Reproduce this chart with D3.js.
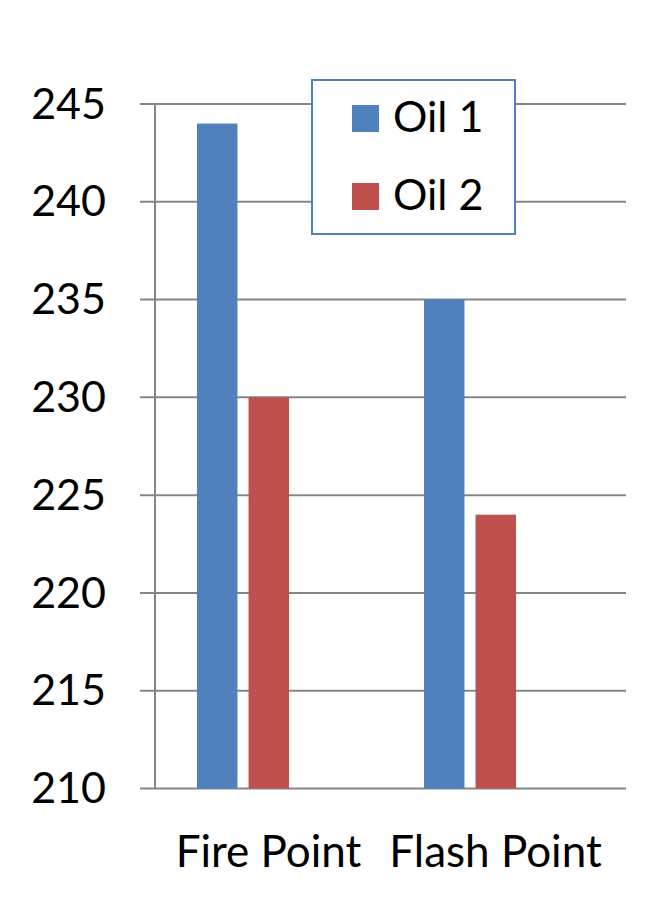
<!DOCTYPE html>
<html><head><meta charset="utf-8">
<script src="https://cdn.jsdelivr.net/npm/d3@7"></script>
<style>body{margin:0;background:#fff;} svg{display:block;}</style>
</head><body>
<script>
const categories = ["Fire Point", "Flash Point"];
const seriesNames = ["Oil 1", "Oil 2"];
const oil1 = [244, 235];
const oil2 = [230, 224];
const yTicks = [210, 215, 220, 225, 230, 235, 240, 245];
const colors = ["#4f81bd", "#c0504d"];

const W = 668, H = 916;
const font = "Lato, 'Open Sans', sans-serif";
const svg = d3.select("body").append("svg").attr("width", W).attr("height", H);

const y = d3.scaleLinear().domain([210, 245]).range([788.5, 104]);
const x0 = d3.scaleBand().domain(categories).range([155, 609]);
const x1 = d3.scaleBand().domain(seriesNames).range([42, 134]).paddingInner(0.215);

// gridlines
svg.append("g").selectAll("line").data(yTicks).join("line")
  .attr("x1", 140).attr("x2", 626)
  .attr("y1", d => y(d)).attr("y2", d => y(d))
  .attr("stroke", "#868686").attr("stroke-width", 2);
// y axis line
svg.append("line").attr("x1", 155).attr("x2", 155).attr("y1", y(245)).attr("y2", y(210))
  .attr("stroke", "#868686").attr("stroke-width", 2);

// y labels
svg.append("g").selectAll("text").data(yTicks).join("text")
  .attr("x", 106).attr("y", d => y(d)).attr("dy", "0.34em")
  .attr("text-anchor", "end").attr("font-family", font).attr("font-size", 43)
  .attr("fill", "#000").text(d => d);

// bars
const data = categories.map((c, i) => ({cat: c, vals: [oil1[i], oil2[i]]}));
const groups = svg.append("g").selectAll("g").data(data).join("g")
  .attr("transform", d => `translate(${x0(d.cat)},0)`);
groups.selectAll("rect").data(d => d.vals.map((v, j) => ({s: seriesNames[j], v, j}))).join("rect")
  .attr("x", d => x1(d.s)).attr("width", x1.bandwidth())
  .attr("y", d => y(d.v)).attr("height", d => y(210) - y(d.v))
  .attr("fill", d => colors[d.j]);

// category labels
svg.append("g").selectAll("text").data(categories).join("text")
  .attr("x", d => x0(d) + x0.bandwidth() / 2).attr("y", 867)
  .attr("text-anchor", "middle").attr("font-family", font).attr("font-size", 44)
  .attr("fill", "#000").text(d => d);

// legend
const lg = svg.append("g");
lg.append("rect").attr("x", 312).attr("y", 80).attr("width", 203).attr("height", 154)
  .attr("fill", "#fff").attr("stroke", "#4f81bd").attr("stroke-width", 2);
seriesNames.forEach((s, i) => {
  const cy = 118.5 + i * 78;
  lg.append("rect").attr("x", 352).attr("y", cy - 13.5).attr("width", 27).attr("height", 27).attr("fill", colors[i]);
  lg.append("text").attr("x", 393).attr("y", cy + 13.5).attr("font-family", font).attr("font-size", 43)
    .attr("fill", "#000").text(s);
});
</script>
</body></html>
